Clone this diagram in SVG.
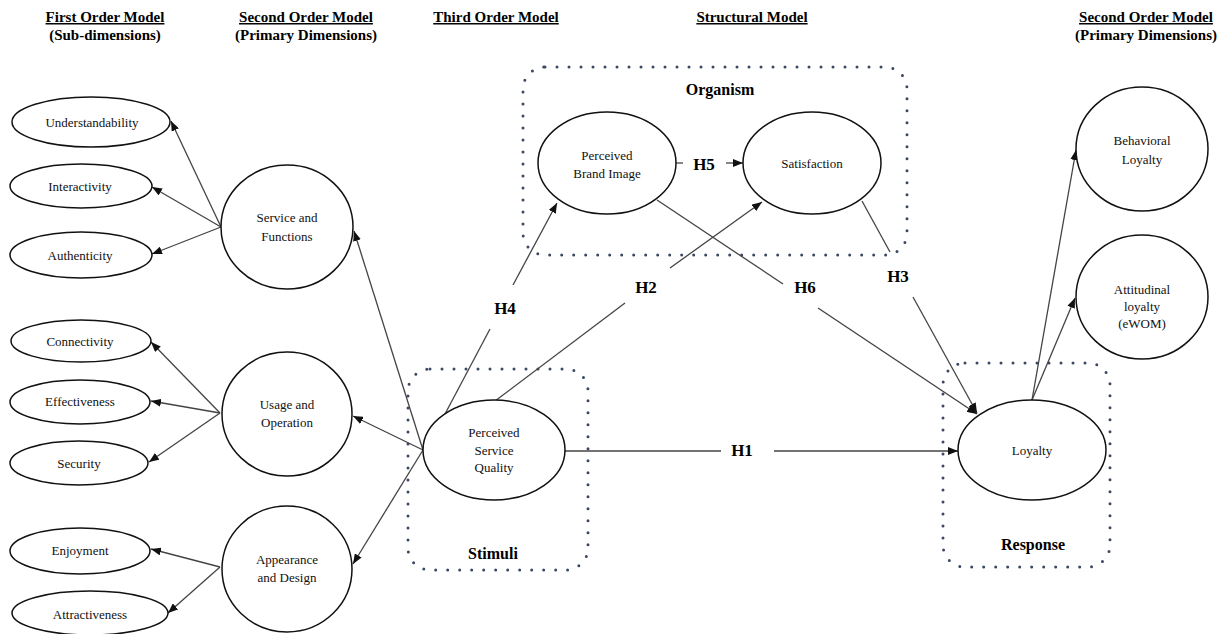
<svg xmlns="http://www.w3.org/2000/svg" width="1227" height="634" viewBox="0 0 1227 634">
<style>
.hd{font-family:"Liberation Serif",serif;font-weight:bold;font-size:15px;text-anchor:middle;fill:#000}
.ul{text-decoration:underline}
.nd{fill:#fff;stroke:#111;stroke-width:1.5}
.tx{font-family:"Liberation Serif",serif;font-size:13px;text-anchor:middle;fill:#111}
.hl{font-family:"Liberation Serif",serif;font-weight:bold;font-size:17px;text-anchor:middle;fill:#000}
.bl{font-family:"Liberation Serif",serif;font-weight:bold;font-size:16px;text-anchor:middle;fill:#000}
.box{fill:none;stroke:#3b4863;stroke-width:3;stroke-linecap:round;stroke-dasharray:0 12}
.cn line{stroke:#444;stroke-width:1.3}
.ar{marker-end:url(#ah)}
</style>
<defs>
<marker id="ah" markerUnits="userSpaceOnUse" markerWidth="10" markerHeight="8" refX="10" refY="4" orient="auto">
<path d="M0,0 L10,4 L0,8 z" fill="#111"/>
</marker>
</defs>
<rect width="1227" height="634" fill="#fff"/>

<g id="headers">
<text class="hd ul" x="105" y="22">First Order Model</text>
<text class="hd" x="105" y="40">(Sub-dimensions)</text>
<text class="hd ul" x="306" y="22">Second Order Model</text>
<text class="hd" x="306" y="40">(Primary Dimensions)</text>
<text class="hd ul" x="496" y="22">Third Order Model</text>
<text class="hd ul" x="752" y="22">Structural Model</text>
<text class="hd ul" x="1146" y="22">Second Order Model</text>
<text class="hd" x="1146" y="40">(Primary Dimensions)</text>
</g>

<g id="boxes">
<rect class="box" x="523" y="67" width="384" height="188" rx="22"/>
<rect class="box" x="408" y="369" width="180" height="201" rx="22"/>
<rect class="box" x="943" y="363" width="167" height="204" rx="22"/>
<text class="bl" x="720" y="95">Organism</text>
<text class="bl" x="493" y="559">Stimuli</text>
<text class="bl" x="1033" y="550">Response</text>
</g>

<g id="connectors" class="cn">
<line class="ar" x1="221" y1="227" x2="171" y2="121"/>
<line class="ar" x1="221" y1="227" x2="152" y2="187"/>
<line class="ar" x1="221" y1="227" x2="152" y2="254"/>
<line class="ar" x1="220" y1="413" x2="151" y2="342"/>
<line class="ar" x1="220" y1="413" x2="151" y2="401"/>
<line class="ar" x1="220" y1="413" x2="149" y2="462"/>
<line class="ar" x1="220" y1="567" x2="151" y2="549"/>
<line class="ar" x1="220" y1="567" x2="168" y2="613"/>
<line class="ar" x1="423" y1="450" x2="354" y2="231"/>
<line class="ar" x1="423" y1="450" x2="353" y2="416"/>
<line class="ar" x1="423" y1="450" x2="353" y2="564"/>
<line x1="445" y1="414" x2="490" y2="329"/>
<line class="ar" x1="513" y1="285" x2="557" y2="203"/>
<line x1="495" y1="401" x2="625" y2="303"/>
<line class="ar" x1="670" y1="268" x2="762" y2="202"/>
<line x1="657" y1="200" x2="783" y2="284"/>
<line class="ar" x1="818" y1="308" x2="977" y2="414"/>
<line x1="862" y1="201" x2="890" y2="252"/>
<line class="ar" x1="913" y1="297" x2="977" y2="413"/>
<line x1="564" y1="451" x2="721" y2="451"/>
<line class="ar" x1="774" y1="451" x2="958" y2="451"/>
<line x1="676" y1="163" x2="683" y2="163"/>
<line class="ar" x1="726" y1="163" x2="743" y2="163"/>
<line class="ar" x1="1032" y1="400" x2="1076" y2="150"/>
<line class="ar" x1="1032" y1="400" x2="1075" y2="298"/>
<text class="hl" x="505" y="314">H4</text>
<text class="hl" x="646" y="293">H2</text>
<text class="hl" x="805" y="293">H6</text>
<text class="hl" x="898" y="282">H3</text>
<text class="hl" x="742" y="456">H1</text>
<text class="hl" x="704" y="170">H5</text>
</g>

<g id="understandability"><ellipse class="nd" cx="91" cy="122" rx="79" ry="25"/><text class="tx" x="92" y="127">Understandability</text></g>
<g id="interactivity"><ellipse class="nd" cx="81" cy="186" rx="71" ry="22"/><text class="tx" x="80" y="191">Interactivity</text></g>
<g id="authenticity"><ellipse class="nd" cx="81" cy="255" rx="71" ry="23"/><text class="tx" x="80" y="260">Authenticity</text></g>
<g id="connectivity"><ellipse class="nd" cx="81" cy="341" rx="70" ry="21"/><text class="tx" x="80" y="346">Connectivity</text></g>
<g id="effectiveness"><ellipse class="nd" cx="80" cy="402" rx="70" ry="22"/><text class="tx" x="80" y="406">Effectiveness</text></g>
<g id="security"><ellipse class="nd" cx="79" cy="463" rx="69" ry="22"/><text class="tx" x="79" y="468">Security</text></g>
<g id="enjoyment"><ellipse class="nd" cx="80" cy="551" rx="70" ry="23"/><text class="tx" x="80" y="555">Enjoyment</text></g>
<g id="attractiveness"><ellipse class="nd" cx="90" cy="613" rx="78" ry="22"/><text class="tx" x="90" y="619">Attractiveness</text></g>

<g id="service-functions"><ellipse class="nd" cx="287" cy="227" rx="66" ry="62"/><text class="tx" x="287" y="222">Service and</text><text class="tx" x="287" y="241">Functions</text></g>
<g id="usage-operation"><ellipse class="nd" cx="287" cy="414" rx="65" ry="62"/><text class="tx" x="287" y="409">Usage and</text><text class="tx" x="287" y="427">Operation</text></g>
<g id="appearance-design"><ellipse class="nd" cx="287" cy="569" rx="65" ry="63"/><text class="tx" x="287" y="564">Appearance</text><text class="tx" x="287" y="582">and Design</text></g>

<g id="perceived-service-quality"><ellipse class="nd" cx="494" cy="450" rx="71" ry="50"/><text class="tx" x="494" y="437">Perceived</text><text class="tx" x="494" y="455">Service</text><text class="tx" x="494" y="472">Quality</text></g>
<g id="perceived-brand-image"><ellipse class="nd" cx="607" cy="163" rx="69" ry="51"/><text class="tx" x="607" y="160">Perceived</text><text class="tx" x="607" y="178">Brand Image</text></g>
<g id="satisfaction"><ellipse class="nd" cx="812" cy="163" rx="69" ry="51"/><text class="tx" x="812" y="168">Satisfaction</text></g>
<g id="loyalty"><ellipse class="nd" cx="1032" cy="450" rx="74" ry="50"/><text class="tx" x="1032" y="455">Loyalty</text></g>
<g id="behavioral-loyalty"><ellipse class="nd" cx="1142" cy="149" rx="66" ry="62"/><text class="tx" x="1142" y="145">Behavioral</text><text class="tx" x="1142" y="164">Loyalty</text></g>
<g id="attitudinal-loyalty"><ellipse class="nd" cx="1142" cy="297" rx="66" ry="62"/><text class="tx" x="1142" y="294">Attitudinal</text><text class="tx" x="1142" y="311">loyalty</text><text class="tx" x="1142" y="328">(eWOM)</text></g>
</svg>
